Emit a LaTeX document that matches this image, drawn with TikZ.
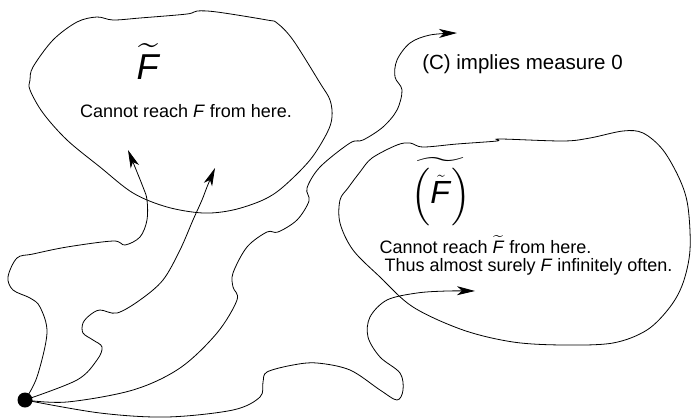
\documentclass[tikz,border=0pt]{standalone}
\usepackage{amsmath}
\usepackage{fontspec}
\setmainfont{Liberation Sans}
\DeclareFontShape{OMX}{cmex}{m}{n}{<-> cmex10}{}
\usetikzlibrary{arrows.meta}
\begin{document}
\begin{tikzpicture}[x=1pt,y=-1pt,
  curve/.style={line width=0.8pt},
  arr/.style={curve,-{Stealth[length=18pt,width=9pt,inset=5pt]}},
  lbl/.style={inner sep=0pt,anchor=base,font=\fontsize{18}{21}\selectfont},
  bigsym/.style={inner sep=0pt,anchor=base,font=\fontsize{32}{38}\selectfont}]
\useasboundingbox (0,0) rectangle (691,418);
% dot
\node[circle,fill,inner sep=0pt,minimum size=15pt] (dot) at (25,400) {};
% named arrow ends
\coordinate (endA) at (128,150);
\coordinate (endB) at (215,168);
\coordinate (endC) at (457,33);
\coordinate (endD) at (475,291);
% blob 1
\draw[curve] plot[smooth cycle,tension=0.55] coordinates {(30,80) (33,67) (53,40) (77,22) (97,17) (113,20) (140,18) (187,14) (197,11) (217,12) (267,20) (277,23) (293,40) (320,83) (330,100) (332,117) (327,133) (310,160) (283,187) (263,200) (233,210) (203,213) (167,207) (133,193) (100,167) (67,140) (43,113) (30,90)};
% blob 2
\draw[curve] plot[smooth cycle,tension=0.55] coordinates {(340,200) (348,188) (360,172) (372,158) (397,145) (410,143) (423,147) (457,144) (497,141) (500,139) (563,141) (590,138) (623,131) (643,133) (663,150) (680,180) (688,207) (690,250) (683,283) (670,307) (647,330) (613,343) (563,345) (513,342) (463,330) (413,307) (380,277) (353,250) (340,223)};
% connectors
\draw[arr] plot[smooth,tension=0.55] coordinates {(dot) (37,377) (47,333) (40,307) (30,298) (13,290) (8,277) (17,258) (33,254) (67,247) (113,241) (125,245) (140,237) (147,220) (147,200) (143,187) (endA)};
\draw[arr] plot[smooth,tension=0.55] coordinates {(dot) (77,380) (97,360) (102,347) (93,340) (83,333) (83,323) (90,315) (100,310) (117,313) (140,300) (163,280) (180,250) (193,220) (202,200) (207,187) (endB)};
\draw[arr] plot[smooth,tension=0.55] coordinates {(dot) (67,402) (133,390) (180,368) (217,333) (237,300) (233,287) (233,273) (247,247) (267,232) (278,232) (297,220) (309,201) (307,188) (320,167) (350,143) (363,140) (383,127) (397,110) (402,90) (395,77) (397,60) (410,43) (430,35) (endC)};
\draw[arr] plot[smooth,tension=0.55] coordinates {(dot) (100,413) (167,417) (233,410) (260,397) (263,382) (267,372) (293,365) (317,363) (350,370) (380,390) (397,400) (403,390) (400,373) (380,357) (368,337) (370,317) (387,300) (417,293) (447,291) (endD)};
% texts
\node[bigsym,font=\fontsize{36}{43}\selectfont] (Ft) at (148.5,79) {$\widetilde{\mbox{\textit{F}}}$};
\node[lbl] (t1) at (186,117) {Cannot reach \textit{F} from here.};
\node[lbl,font=\fontsize{20.5}{24}\selectfont] (tC) at (522.5,69) {(C) implies measure 0};
\node[bigsym] (Ftt) at (441,203) {$\widetilde{\left(\vrule height 30pt depth 18pt width 0pt\tilde{\mbox{\textit{F}}}\right)}$};
\node[lbl] (t2) at (485.5,253) {Cannot reach $\widetilde{\mbox{\textit{F}}}$ from here.};
\node[lbl] (t3) at (528.5,271) {Thus almost surely \textit{F} infinitely often.};
\end{tikzpicture}
\end{document}
